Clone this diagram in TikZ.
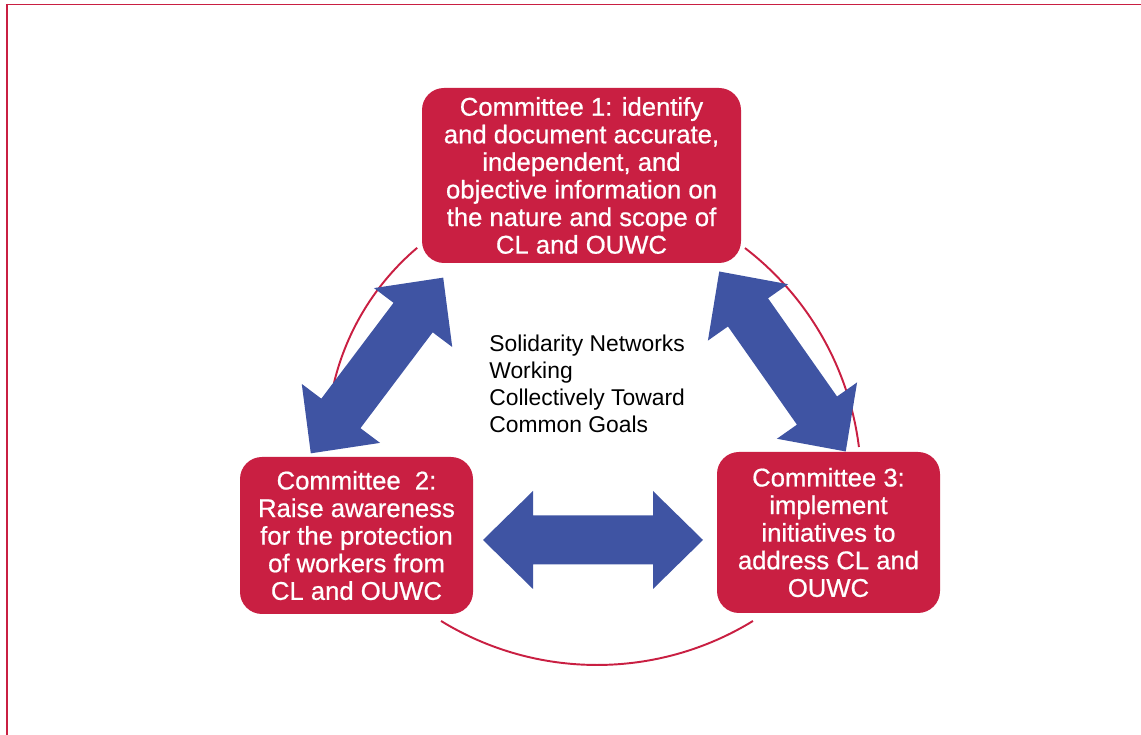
\documentclass[tikz,border=0pt]{standalone}
\usepackage{fontspec}
\setmainfont{Liberation Sans}
\newfontfamily\boxfont[FakeBold=0.7]{Liberation Sans}

\definecolor{cmtred}{RGB}{201,31,66}
\definecolor{cmtblue}{RGB}{63,84,163}

\tikzset{
    committee/.style={fill=cmtred, rounded corners=0.44cm, text=white, align=center, inner sep=0pt,
        font=\boxfont\fontsize{14.6}{15.7}\selectfont},
    cyclearc/.style={cmtred, line width=1.1pt},
    blockarrow/.pic={
        \fill[cmtblue] (-2.2,0) -- (-1.2,0.98) -- (-1.2,0.49) -- (1.2,0.49) -- (1.2,0.98) -- (2.2,0)
            -- (1.2,-0.98) -- (1.2,-0.49) -- (-1.2,-0.49) -- (-1.2,-0.98) -- cycle;
    }
}

\begin{document}
\begin{tikzpicture}
    \useasboundingbox (0,0) rectangle (22.82,14.7);
    % frame
    \draw[cmtred, line width=0.9pt] (0.12,14.606) -- (22.82,14.606);
    \draw[cmtred, line width=1.1pt] (0.14,14.62) -- (0.14,0);
    % cycle arcs
    \draw[cyclearc] (11.648,5.846) ++(130.3:5.11) arc[start angle=130.3, end angle=166.5, radius=5.11];
    \draw[cyclearc] (11.284,5.026) ++(52.5:5.94) arc[start angle=52.5, end angle=7.1, radius=5.94];
    \draw[cyclearc] (11.94,7.37) ++(238.5:5.97) arc[start angle=238.5, end angle=301.5, radius=5.97];
    % block arrows
    \pic[rotate=53] at (7.54,7.39) {blockarrow};
    \pic[rotate=-54.9] at (15.65,7.47) {blockarrow};
    \pic at (11.86,3.9) {blockarrow};
    % committees
    \node[committee, minimum width=6.38cm, minimum height=3.5cm] (c1) at (11.63,11.19)
        {Committee 1: identify\\and document accurate,\\independent, and\\objective information on\\the nature and scope of\\CL and OUWC};
    \node[committee, minimum width=4.66cm, minimum height=3.14cm] (c2) at (7.13,3.99)
        {Committee\ \ 2:\\Raise awareness\\for the protection\\of workers from\\CL and OUWC};
    \node[committee, minimum width=4.46cm, minimum height=3.22cm] (c3) at (16.57,4.05)
        {Committee 3:\\implement\\initiatives to\\address CL and\\OUWC};
    \node[anchor=west, align=left, inner sep=0pt, font=\fontsize{13}{15.4}\selectfont] (goal) at (9.78,7.03)
        {Solidarity Networks\\Working\\Collectively Toward\\Common Goals};
\end{tikzpicture}
\end{document}
